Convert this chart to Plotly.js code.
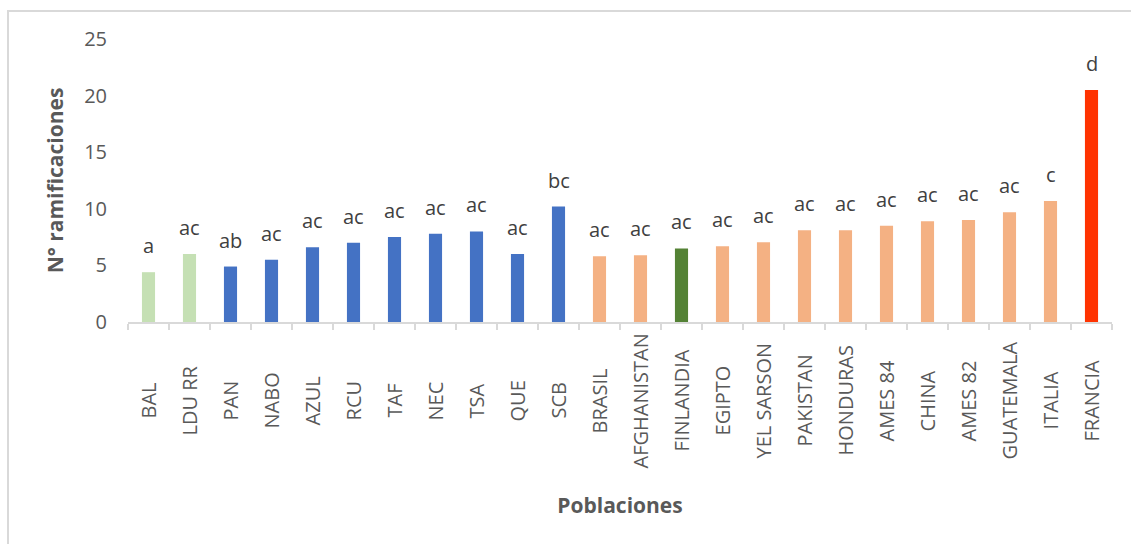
<!DOCTYPE html>
<html>
<head>
<meta charset="utf-8">
<script src="https://cdn.plot.ly/plotly-3.0.1.min.js"></script>
<style>
  html, body { margin: 0; padding: 0; background: #fff; }
  #wrap { position: relative; width: 1131px; height: 544px; overflow: hidden; }
  #chart { width: 1131px; height: 544px; }
  #frame { position: absolute; left: 7px; top: 10px; width: 1300px; height: 700px;
           border-left: 2px solid #d9d9d9; border-top: 2px solid #d9d9d9; pointer-events: none; }
</style>
</head>
<body>
<div id="wrap">
  <div id="chart"></div>
  <div id="frame"></div>
</div>
<script>
// ---- data ----
const categories = ["BAL", "LDU RR", "PAN", "NABO", "AZUL", "RCU", "TAF", "NEC", "TSA", "QUE", "SCB",
  "BRASIL", "AFGHANISTAN", "FINLANDIA", "EGIPTO", "YEL SARSON", "PAKISTAN", "HONDURAS",
  "AMES 84", "CHINA", "AMES 82", "GUATEMALA", "ITALIA", "FRANCIA"];
const values = [4.4, 6.0, 4.9, 5.5, 6.6, 7.0, 7.5, 7.8, 8.0, 6.0, 10.2,
  5.8, 5.9, 6.5, 6.7, 7.05, 8.1, 8.1, 8.5, 8.9, 9.0, 9.7, 10.7, 20.5];
const letters = ["a", "ac", "ab", "ac", "ac", "ac", "ac", "ac", "ac", "ac", "bc",
  "ac", "ac", "ac", "ac", "ac", "ac", "ac", "ac", "ac", "ac", "ac", "c", "d"];
const groups = ["G1", "G1", "G2", "G2", "G2", "G2", "G2", "G2", "G2", "G2", "G2",
  "G3", "G3", "G4", "G3", "G3", "G3", "G3", "G3", "G3", "G3", "G3", "G3", "G5"];

// ---- styles ----
const groupColor = { G1: "#C5E0B4", G2: "#4472C4", G3: "#F4B183", G4: "#548235", G5: "#FF3300" };
const FONT = "'Open Sans', 'Noto Sans', sans-serif";

const trace = {
  type: "bar",
  x: categories,
  y: values,
  marker: { color: groups.map(g => groupColor[g]) },
  hoverinfo: "x+y"
};

const annotations = [];
categories.forEach((c, i) => {
  annotations.push({
    xref: "x", yref: "y", x: c, y: values[i],
    text: letters[i], showarrow: false,
    yanchor: "bottom", xanchor: "center", yshift: 11,
    font: { family: FONT, size: 20, color: "#404040" }
  });
  annotations.push({
    xref: "x", yref: "paper", x: c, y: -0.279,
    text: c, showarrow: false, textangle: -90,
    yanchor: "middle", xanchor: "center",
    font: { family: FONT, size: 20, color: "#595959" }
  });
});

const layout = {
  width: 1131, height: 544,
  margin: { l: 128, r: 19, t: 39, b: 222 },
  paper_bgcolor: "#ffffff", plot_bgcolor: "#ffffff",
  showlegend: false,
  bargap: 0.68,
  font: { family: FONT, size: 20, color: "#595959" },
  xaxis: {
    type: "category",
    showticklabels: false,
    showline: true, linecolor: "#d9d9d9", linewidth: 2,
    ticks: "outside", tickson: "boundaries", ticklen: 6, tickcolor: "#d9d9d9", tickwidth: 2,
    showgrid: false, zeroline: false,
    title: { text: "<b>Poblaciones</b>", standoff: 175,
             font: { family: FONT, size: 21, color: "#595959" } },
    automargin: false
  },
  yaxis: {
    range: [0, 25], dtick: 5, tick0: 0,
    showgrid: false, zeroline: false, showline: false,
    ticks: "", ticklabelstandoff: 20,
    tickfont: { family: FONT, size: 20, color: "#595959" },
    title: { text: "<b>N° ramificaciones</b>", standoff: 14,
             font: { family: FONT, size: 21, color: "#595959" } },
    automargin: false
  },
  annotations: annotations
};

Plotly.newPlot("chart", [trace], layout, { displayModeBar: false, staticPlot: true });
</script>
</body>
</html>
